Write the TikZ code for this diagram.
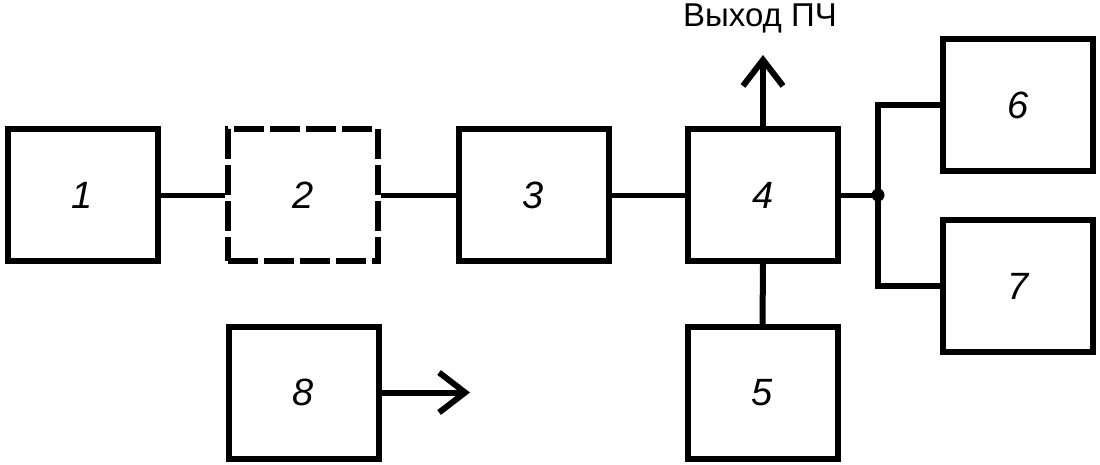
\documentclass[tikz,border=0pt]{standalone}
\usepackage{fontspec}
\setmainfont{Liberation Sans}
\usetikzlibrary{arrows.meta}
\tikzset{
  blk/.style={draw=black, line width=6pt, minimum width=150pt, minimum height=132pt,
    inner sep=0pt, font=\fontsize{38}{38}\selectfont\itshape},
  dblk/.style={blk, dash pattern=on 30pt off 6pt},
  conn/.style={line width=5pt, black},
  wire/.style={line width=6pt, black},
  arr/.style={line width=6pt, black, -{Straight Barb[length=26pt, width=40pt, line width=6pt]}},
}
\begin{document}
\begin{tikzpicture}[x=1pt,y=-1pt]
\useasboundingbox (0,0) rectangle (1100,464);
\node[blk]  (b1) at (82.5,195) {1};
\node[dblk] (b2) at (303,195) {2};
\node[blk]  (b3) at (533.5,195) {3};
\node[blk]  (b4) at (763,195) {4};
\node[blk]  (b6) at (1018,105) {6};
\node[blk]  (b7) at (1018,286) {7};
\node[blk]  (b8) at (303.5,392.5) {8};
\node[blk]  (b5) at (762.5,393) {5};
\coordinate (j) at (878,195);
\coordinate (out) at (763,55);
\coordinate (o8) at (470,392.5);
\node[font=\fontsize{33}{33}\selectfont] (lbl) at (760,18) {Выход ПЧ};
\draw[conn] (b1.east) -- (b2.west);
\draw[conn] (b2.east) -- (b3.west);
\draw[conn] (b3.east) -- (b4.west);
\draw[conn] (b4.east) -- (j);
\draw[wire] (j) |- (b6.west);
\draw[wire] (j) |- (b7.west);
\fill (j) circle (6.5pt);
\draw[wire] (b4.south) -- (b5.north);
\draw[arr] (b4.north) -- (out);
\draw[arr] (b8.east) -- (o8);
\end{tikzpicture}
\end{document}
